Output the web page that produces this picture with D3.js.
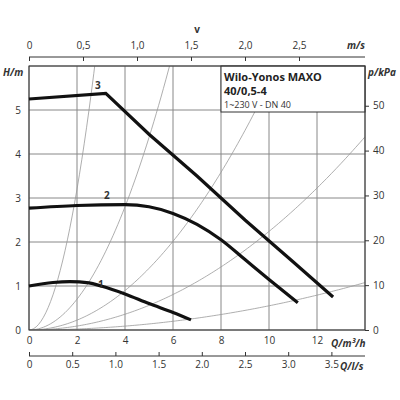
<!DOCTYPE html><html><head><script src="https://cdn.jsdelivr.net/npm/d3@7"></script>
<style>body{margin:0;background:#fff}text{font-family:"Open Sans",sans-serif;fill:#333}</style></head><body><svg width="400" height="400"></svg><script>
const curve1=[[0,1.0],[1,1.08],[1.7,1.1],[2.5,1.07],[3,1.0],[4,0.82],[5,0.6],[6,0.4],[6.75,0.23]];
const curve2=[[0,2.77],[2,2.83],[4,2.85],[5,2.8],[6,2.65],[7,2.4],[8,2.05],[9,1.6],[10,1.15],[11.2,0.62]];
const curve3=[[0,5.25],[3.2,5.38],[5,4.45],[7,3.5],[9,2.5],[11,1.55],[12.67,0.75]];
const systemK=[0.8,0.175,0.056,0.0224,0.0055];
const qTicks=[0,2,4,6,8,10,12], hTicks=[0,1,2,3,4,5], pTicks=[0,10,20,30,40,50];
const vTicks=["0","0,5","1,0","1,5","2,0","2,5"], lsTicks=["0","0.5","1.0","1.5","2.0","2.5","3.0","3.5"];
const svg=d3.select("svg");
const x=d3.scaleLinear([0,14],[29,365]), y=d3.scaleLinear([0,6],[330,66]);
const g=svg.append("g");
g.selectAll(".vg").data(d3.range(0,15,2)).join("line").attr("x1",x).attr("x2",x).attr("y1",66).attr("y2",330).attr("stroke","#888");
g.selectAll(".hg").data(d3.range(0,7)).join("line").attr("y1",y).attr("y2",y).attr("x1",29).attr("x2",365).attr("stroke","#888");
svg.append("defs").append("clipPath").attr("id","c").append("rect").attr("x",29).attr("y",66).attr("width",336).attr("height",264);
const line=d3.line().x(d=>x(d[0])).y(d=>y(d[1]));
svg.append("g").attr("clip-path","url(#c)").selectAll("path").data(systemK).join("path")
 .attr("d",k=>line(d3.range(0,14.01,0.1).map(q=>[q,k*q*q]))).attr("fill","none").attr("stroke","#999").attr("stroke-width",0.8);
svg.append("rect").attr("x",x(8)).attr("y",66).attr("width",365-x(8)).attr("height",46).attr("fill","#fff").attr("stroke","#333");
svg.append("rect").attr("x",29).attr("y",66).attr("width",336).attr("height",264).attr("fill","none").attr("stroke","#333");
const lc=d3.line().x(d=>x(d[0])).y(d=>y(d[1])).curve(d3.curveMonotoneX);
[curve1,curve2].forEach(c=>svg.append("path").attr("d",lc(c)).attr("fill","none").attr("stroke","#111").attr("stroke-width",3.2));
svg.append("path").attr("d",line.curve(d3.curveLinear)(curve3)).attr("fill","none").attr("stroke","#111").attr("stroke-width",3.2);
[["1",98,288],["2",104,199],["3",95,89]].forEach(t=>svg.append("text").text(t[0]).attr("x",t[1]).attr("y",t[2]).attr("font-size",10).attr("font-weight","bold"));
svg.append("text").attr("x",224).attr("y",81).attr("font-size",11).attr("font-weight","bold").style("fill","#222").text("Wilo-Yonos MAXO");
svg.append("text").attr("x",224).attr("y",95).attr("font-size",11).attr("font-weight","bold").style("fill","#222").text("40/0,5-4");
svg.append("text").attr("x",224).attr("y",108).attr("font-size",9).text("1~230 V - DN 40");
svg.append("g").attr("transform","translate(29,0)").call(d3.axisLeft(y).tickValues(hTicks).tickFormat(d3.format("d")).tickSize(0).tickPadding(8)).call(a=>a.select(".domain").remove()).selectAll("text").attr("font-size",10);
svg.append("text").text("H/m").attr("x",3).attr("y",76).attr("font-size",10).attr("font-weight","bold").attr("font-style","italic");
const yp=d3.scaleLinear([0,60],[y(0),y(60/9.81)]);
svg.append("g").attr("transform","translate(365,0)").call(d3.axisRight(yp).tickValues(pTicks).tickSize(4).tickPadding(4)).call(a=>a.select(".domain").remove()).selectAll("text").attr("font-size",10);
svg.append("text").text("p/kPa").attr("x",368).attr("y",76).attr("font-size",10).attr("font-weight","bold").attr("font-style","italic");
svg.append("g").attr("transform","translate(0,330)").call(d3.axisBottom(x).tickValues(qTicks).tickSize(0).tickPadding(7)).call(a=>a.select(".domain").remove()).selectAll("text").attr("font-size",10);
svg.append("text").text("Q/m³/h").attr("x",331).attr("y",347).attr("font-size",10).attr("font-weight","bold").attr("font-style","italic");
const xl=d3.scaleLinear([0,14/3.6],[29,365]);
svg.append("g").attr("transform","translate(0,356)").call(d3.axisBottom(xl).tickValues(lsTicks.map(Number)).tickFormat((d,i)=>lsTicks[i]).tickSize(-4).tickSizeOuter(0).tickPadding(5))
 .call(a=>a.select(".domain").attr("d","M29,0H365").attr("stroke","#333")).selectAll("text").attr("font-size",10);
svg.append("text").text("Q/l/s").attr("x",340).attr("y",370).attr("font-size",10).attr("font-weight","bold").attr("font-style","italic");
const xvv=d3.scaleLinear([0,1],[29,29+108]);
const vVals=vTicks.map(s=>+s.replace(",","."));
svg.append("g").attr("transform","translate(0,57)").call(d3.axisTop(xvv).tickValues(vVals).tickFormat((d,i)=>vTicks[i]).tickSize(-4).tickPadding(8))
 .call(a=>a.select(".domain").remove()).selectAll("text").attr("font-size",10);
svg.append("line").attr("x1",29).attr("x2",365).attr("y1",57).attr("y2",57).attr("stroke","#333");
svg.append("text").text("m/s").attr("x",347).attr("y",49).attr("font-size",10).attr("font-weight","bold").attr("font-style","italic");
svg.append("text").text("v").attr("x",197).attr("y",33).attr("font-size",10).attr("font-weight","bold").attr("text-anchor","middle");
svg.selectAll(".tick line").attr("stroke","#333");
</script></body></html>
